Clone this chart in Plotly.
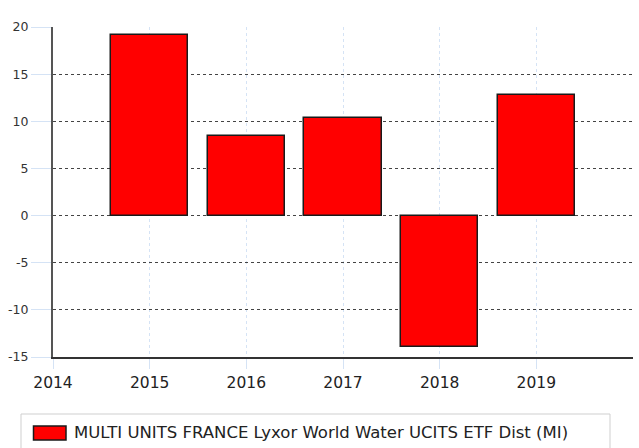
import plotly.graph_objects as go

years = [2015, 2016, 2017, 2018, 2019]
values = [19.15, 8.45, 10.35, -13.95, 12.8]
series_name = "MULTI UNITS FRANCE Lyxor World Water UCITS ETF Dist (MI)"
x_ticks = [2014, 2015, 2016, 2017, 2018, 2019]
y_ticks = [-15, -10, -5, 0, 5, 10, 15, 20]

W, H = 639, 448
ML, MR, MT, MB = 53, 6, 27, 91
PW, PH = W - ML - MR, H - MT - MB

def px_x(px):
    return (px - ML) / PW

def px_y(py):
    return (H - MB - py) / PH

fig = go.Figure()
fig.add_trace(go.Bar(
    x=years, y=values, width=0.8, name=series_name,
    marker=dict(color="#ff0000", line=dict(color="#1a1a1a", width=1.5)),
    showlegend=False,
))

fig.update_layout(
    width=W, height=H,
    margin=dict(l=ML, r=MR, t=MT, b=MB, autoexpand=False),
    paper_bgcolor="white", plot_bgcolor="white",
    font=dict(family="DejaVu Sans", color="#333"),
    bargap=0,
    xaxis=dict(
        range=[2014, 2020], tickvals=x_ticks, ticktext=[str(t) for t in x_ticks],
        showgrid=True, gridcolor="#d5e3f5", griddash="dot", gridwidth=1,
        ticks="outside", ticklen=10, tickcolor="#d5e3f5", tickwidth=1,
        showline=True, linecolor="#333", linewidth=2,
        tickfont=dict(size=15.5, color="#222"), zeroline=False, automargin=False,
    ),
    yaxis=dict(
        range=[-15, 20], tickvals=y_ticks, ticktext=[str(t) for t in y_ticks],
        showgrid=True, gridcolor="#444", griddash="dot", gridwidth=1,
        ticks="outside", ticklen=20, tickcolor="#d5e3f5", tickwidth=1,
        showline=True, linecolor="#555", linewidth=2,
        tickfont=dict(size=12.5, color="#333"), zeroline=False, automargin=False,
    ),
    shapes=[
        dict(type="rect", xref="paper", yref="paper",
             x0=px_x(21), x1=px_x(610), y0=px_y(414), y1=px_y(470),
             line=dict(color="#cfcfcf", width=1), fillcolor="rgba(0,0,0,0)", layer="above"),
        dict(type="rect", xref="paper", yref="paper",
             x0=px_x(33.5), x1=px_x(66), y0=px_y(426), y1=px_y(440),
             line=dict(color="#1a1a1a", width=1.5), fillcolor="#ff0000", layer="above"),
    ],
    annotations=[
        dict(text=series_name, xref="paper", yref="paper",
             x=px_x(72), y=px_y(432), xanchor="left", yanchor="middle",
             showarrow=False, font=dict(size=16.5, color="#222", family="DejaVu Sans")),
    ],
)

fig.write_html("out.html", config={"displayModeBar": False},
               post_script="document.body.style.margin='0';document.body.style.overflow='hidden';")
